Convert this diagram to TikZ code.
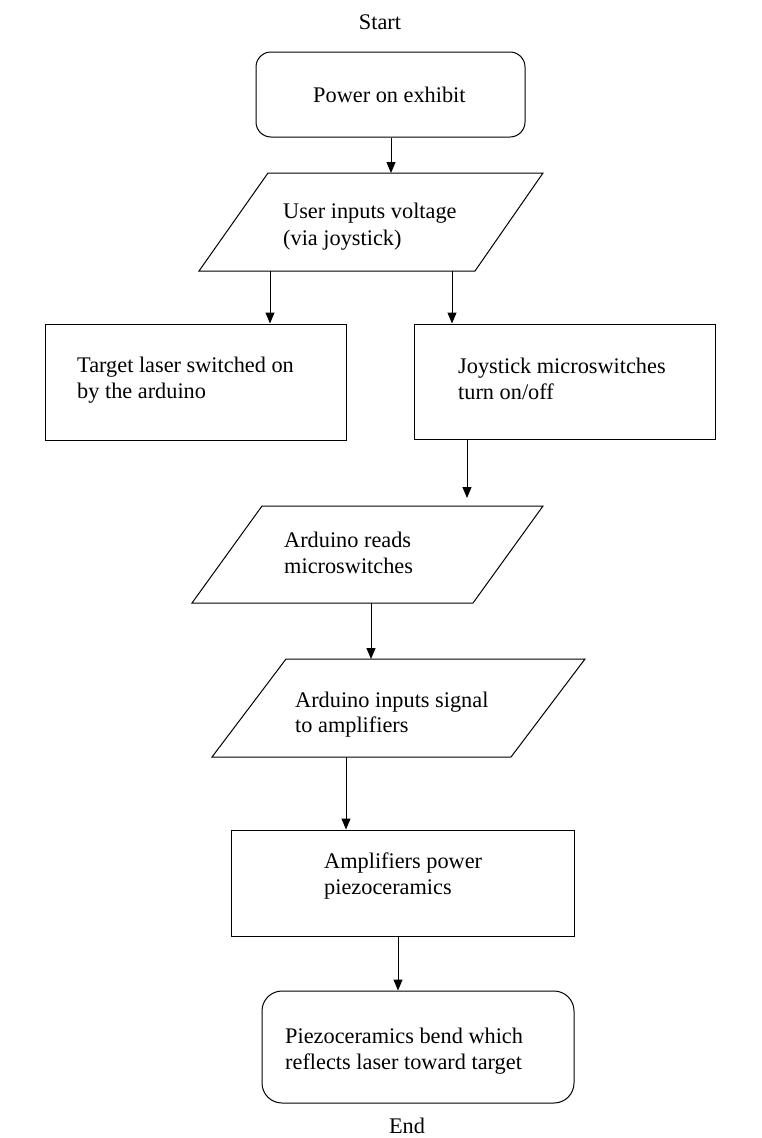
\documentclass[tikz,border=0pt]{standalone}
\usepackage{fontspec}
\setmainfont{Liberation Serif}
\usetikzlibrary{arrows.meta}
\begin{document}
\begin{tikzpicture}[x=1pt,y=-1pt,
  txt/.style={font=\fontsize{22.3}{27}\selectfont, inner sep=0pt},
  lbl/.style={txt, anchor=base west},
  box/.style={draw, line width=1pt, inner sep=0pt, rectangle},
  rbox/.style={box, rounded corners=15pt},
  para/.style={draw, line width=1pt, line join=miter},
  arr/.style={line width=1pt, -{Triangle[length=11pt,width=9pt]}}]
\useasboundingbox (0,0) rectangle (762,1138);

% shapes
\node[rbox, minimum width=269pt, minimum height=85pt] (pow) at (390.5,94.5) {};
\draw[para] (268,173) coordinate (p1tl) -- (543,173) -- (475,271) -- (199,271) coordinate (p1bl) -- cycle;
\node[box, minimum width=301pt, minimum height=116pt] (lb) at (195.5,382) {};
\node[box, minimum width=301pt, minimum height=115pt] (rb) at (564.5,381.5) {};
\draw[para] (262,506) -- (543,506) -- (473,603) -- (192,603) -- cycle;
\draw[para] (286,659) -- (585,659) -- (511,757) -- (212,757) -- cycle;
\node[box, minimum width=343pt, minimum height=106pt] (amp) at (402.5,883) {};
\node[box, rounded corners=20pt, minimum width=312pt, minimum height=112pt] (pz) at (418,1047) {};

% connector points on the parallelograms
\coordinate (p1in) at (391,173);
\coordinate (p1outL) at (270,271);
\coordinate (p1outR) at (452,271);
\coordinate (p2in) at (467,498);
\coordinate (p2out) at (371,603);
\coordinate (p3in) at (371,659);
\coordinate (p3out) at (346,757);

% connectors
\draw[arr] (pow.south -| p1in) -- (p1in);
\draw[arr] (p1outL) -- (p1outL |- lb.north);
\draw[arr] (p1outR) -- (p1outR |- rb.north);
\draw[arr] (rb.south -| p2in) -- (p2in);
\draw[arr] (p2out) -- (p3in);
\draw[arr] (p3out) -- (p3out |- amp.north);
\coordinate (ampout) at (398,936);
\draw[arr] (ampout) -- (ampout |- pz.north);

% texts
\node[txt, anchor=base] (start) at (380,29) {Start};
\node[lbl] (tpow) at (313,102) {Power on exhibit};
\node[lbl] (tuser1) at (283,218) {User inputs voltage};
\node[lbl] (tuser2) at (283,245) {(via joystick)};
\node[lbl] (tlb1) at (77,372) {Target laser switched on};
\node[lbl] (tlb2) at (77,398) {by the arduino};
\node[lbl] (trb1) at (458,373) {Joystick microswitches};
\node[lbl] (trb2) at (458,399) {turn on/off};
\node[lbl] (tp21) at (284,547) {Arduino reads};
\node[lbl] (tp22) at (284,573) {microswitches};
\node[lbl] (tp31) at (295,707) {Arduino inputs signal};
\node[lbl] (tp32) at (295,732) {to amplifiers};
\node[lbl] (tamp1) at (324,868) {Amplifiers power};
\node[lbl] (tamp2) at (324,894) {piezoceramics};
\node[lbl] (tpz1) at (285,1043) {Piezoceramics bend which};
\node[lbl] (tpz2) at (285,1069) {reflects laser toward target};
\node[txt, anchor=base] (end) at (407,1133) {End};
\end{tikzpicture}
\end{document}
